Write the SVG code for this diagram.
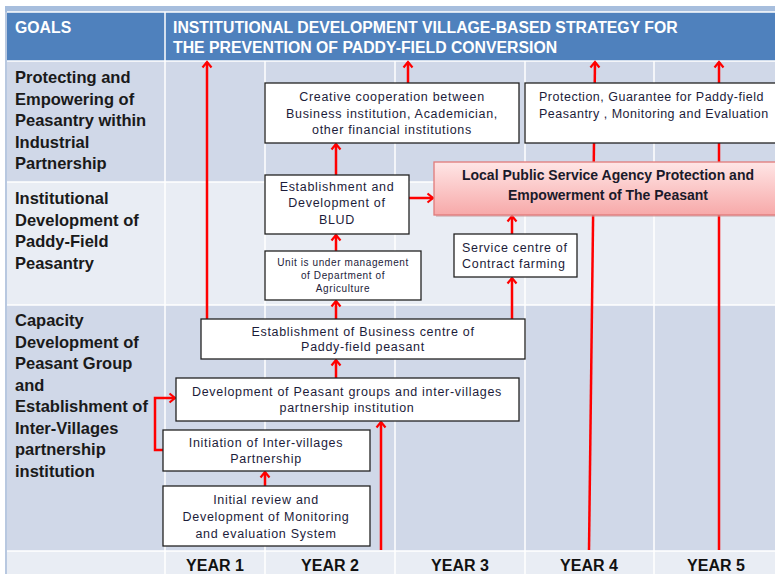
<svg xmlns="http://www.w3.org/2000/svg" width="775" height="574" viewBox="0 0 775 574">
<defs>
<linearGradient id="pink" x1="0" y1="0" x2="0" y2="1">
<stop offset="0" stop-color="#FFE6E6"/>
<stop offset="1" stop-color="#F7A9A9"/>
</linearGradient>
<marker id="ah" markerUnits="userSpaceOnUse" markerWidth="12" markerHeight="12" viewBox="-7 -6 9 12" refX="0" refY="0" orient="auto">
<path d="M-5.5,-4.5 L0,0 L-5.5,4.5" fill="none" stroke="#FF0000" stroke-width="2.2"/>
</marker>
</defs>
<style>
.bg1{fill:#D0D8E8}
.bg2{fill:#E9EDF4}
.grid{stroke:#FFFFFF;stroke-width:1.5}
.hdr{font-family:"Liberation Sans",Arial,sans-serif;font-weight:bold;font-size:15.8px;fill:#FFFFFF}
.goal{font-family:"Liberation Sans",Arial,sans-serif;font-weight:bold;font-size:16.5px;fill:#1a1a1a}
.year{font-family:"Liberation Sans",Arial,sans-serif;font-weight:bold;font-size:16px;fill:#111111;text-anchor:middle}
.box{fill:#FFFFFF;stroke:#222222;stroke-width:1.3}
.t{font-family:"Liberation Sans",Arial,sans-serif;font-size:12.5px;letter-spacing:0.7px;fill:#1c1c3a}
.tn{letter-spacing:0.5px}
.ts{font-family:"Liberation Sans",Arial,sans-serif;font-size:10px;letter-spacing:0.6px;fill:#1c1c3a}
.c{text-anchor:middle}
.tb{font-family:"Liberation Sans",Arial,sans-serif;font-weight:bold;font-size:14px;fill:#1a1a2a;text-anchor:middle}
.ar{fill:none;stroke:#FF0000;stroke-width:2.5;marker-end:url(#ah)}
</style>
<rect x="0" y="0" width="775" height="574" fill="#FFFFFF"/>
<rect x="5" y="6" width="770" height="6" fill="#A7BEDD"/>
<rect x="7" y="12" width="768" height="49" fill="#4F81BD"/>
<rect x="7" y="61" width="768" height="121" class="bg1"/>
<rect x="7" y="182" width="768" height="123" class="bg2"/>
<rect x="7" y="305" width="768" height="246" class="bg1"/>
<rect x="7" y="551" width="768" height="23" class="bg2"/>
<rect x="5" y="12" width="2" height="562" fill="#B8C8E0"/>
<g class="grid">
<line x1="7" y1="12" x2="775" y2="12"/>
<line x1="7" y1="61" x2="775" y2="61"/>
<line x1="7" y1="182" x2="775" y2="182"/>
<line x1="7" y1="305" x2="775" y2="305"/>
<line x1="7" y1="551" x2="775" y2="551"/>
<line x1="165" y1="12" x2="165" y2="574"/>
<line x1="265" y1="61" x2="265" y2="574"/>
<line x1="395" y1="61" x2="395" y2="574"/>
<line x1="525" y1="61" x2="525" y2="574"/>
<line x1="654" y1="61" x2="654" y2="574"/>
</g>
<g id="header">
<text class="hdr" x="15" y="33">GOALS</text>
<text class="hdr" x="173" y="33">INSTITUTIONAL DEVELOPMENT VILLAGE-BASED STRATEGY FOR</text>
<text class="hdr" x="173" y="53">THE PREVENTION OF PADDY-FIELD CONVERSION</text>
</g>
<g id="goal1">
<text class="goal" x="15" y="83">Protecting and</text>
<text class="goal" x="15" y="104.5">Empowering of</text>
<text class="goal" x="15" y="126">Peasantry within</text>
<text class="goal" x="15" y="147.5">Industrial</text>
<text class="goal" x="15" y="169">Partnership</text>
</g>
<g id="goal2">
<text class="goal" x="15" y="204">Institutional</text>
<text class="goal" x="15" y="225.5">Development of</text>
<text class="goal" x="15" y="247">Paddy-Field</text>
<text class="goal" x="15" y="268.5">Peasantry</text>
</g>
<g id="goal3">
<text class="goal" x="15" y="326">Capacity</text>
<text class="goal" x="15" y="347.5">Development of</text>
<text class="goal" x="15" y="369">Peasant Group</text>
<text class="goal" x="15" y="390.5">and</text>
<text class="goal" x="15" y="412">Establishment of</text>
<text class="goal" x="15" y="433.5">Inter-Villages</text>
<text class="goal" x="15" y="455">partnership</text>
<text class="goal" x="15" y="476.5">institution</text>
</g>
<g id="years">
<text class="year" x="215" y="571">YEAR 1</text>
<text class="year" x="330" y="571">YEAR 2</text>
<text class="year" x="460" y="571">YEAR 3</text>
<text class="year" x="589" y="571">YEAR 4</text>
<text class="year" x="716" y="571">YEAR 5</text>
</g>
<g id="connectors">
<line class="ar" x1="207" y1="319" x2="207" y2="62"/>
<line class="ar" x1="408" y1="83" x2="408" y2="62"/>
<line class="ar" x1="589" y1="550" x2="595" y2="62"/>
<line class="ar" x1="719" y1="550" x2="719" y2="62"/>
<line class="ar" x1="336" y1="175" x2="336" y2="144"/>
<line class="ar" x1="336" y1="251" x2="336" y2="235"/>
<line class="ar" x1="336" y1="319" x2="336" y2="301"/>
<line class="ar" x1="336" y1="378" x2="336" y2="360"/>
<line class="ar" x1="409" y1="198" x2="433" y2="198"/>
<line class="ar" x1="512" y1="234" x2="512" y2="216"/>
<line class="ar" x1="512" y1="319" x2="512" y2="278"/>
<line class="ar" x1="265" y1="486" x2="265" y2="472"/>
<line class="ar" x1="381" y1="550" x2="381" y2="422"/>
<polyline class="ar" points="163,450 155,450 155,398 175,398"/>
</g>
<g id="n-creative">
<rect class="box" x="265" y="83" width="254" height="60"/>
<text class="t c" x="392" y="101">Creative cooperation between</text>
<text class="t c" x="392" y="117.5">Business institution, Academician,</text>
<text class="t c" x="392" y="134">other financial institutions</text>
</g>
<g id="n-protection">
<rect class="box" x="525" y="83" width="255" height="60"/>
<text class="t tn" x="539" y="101">Protection, Guarantee for Paddy-field</text>
<text class="t tn" x="539" y="117.5">Peasantry , Monitoring and Evaluation</text>
</g>
<g id="n-agency">
<rect x="436" y="164" width="348" height="53" fill="#C8A0A0" opacity="0.5"/>
<rect x="434" y="162" width="348" height="53" fill="url(#pink)" stroke="#E07A7A" stroke-width="1.3"/>
<text class="tb" x="608" y="180">Local Public Service Agency Protection and</text>
<text class="tb" x="608" y="200">Empowerment of The Peasant</text>
</g>
<g id="n-blud">
<rect class="box" x="265" y="175" width="144" height="59"/>
<text class="t c" x="337" y="190.5">Establishment and</text>
<text class="t c" x="337" y="207">Development of</text>
<text class="t c" x="337" y="223.5">BLUD</text>
</g>
<g id="n-unit">
<rect class="box" x="265" y="251" width="156" height="49"/>
<text class="ts c" x="343" y="265.5">Unit  is under management</text>
<text class="ts c" x="343" y="278.5">of Department of</text>
<text class="ts c" x="343" y="291.5">Agriculture</text>
</g>
<g id="n-service">
<rect class="box" x="454" y="234" width="123" height="43"/>
<text class="t" x="462" y="251.5">Service centre of</text>
<text class="t" x="462" y="267.5">Contract farming</text>
</g>
<g id="n-business">
<rect class="box" x="201" y="319" width="324" height="40"/>
<text class="t c" x="363" y="335.5">Establishment of Business centre of</text>
<text class="t c" x="363" y="351">Paddy-field peasant</text>
</g>
<g id="n-groups">
<rect class="box" x="176" y="378" width="343" height="43"/>
<text class="t c" x="347" y="395.5">Development of Peasant groups and inter-villages</text>
<text class="t c" x="347" y="411.5">partnership institution</text>
</g>
<g id="n-initiation">
<rect class="box" x="163" y="430" width="207" height="41"/>
<text class="t c" x="266" y="446.5">Initiation  of Inter-villages</text>
<text class="t c" x="266" y="462.5">Partnership</text>
</g>
<g id="n-review">
<rect class="box" x="163" y="486" width="207" height="60"/>
<text class="t c" x="266" y="503.5">Initial review and</text>
<text class="t c" x="266" y="520.5">Development of Monitoring</text>
<text class="t c" x="266" y="537.5">and evaluation System</text>
</g>
</svg>
